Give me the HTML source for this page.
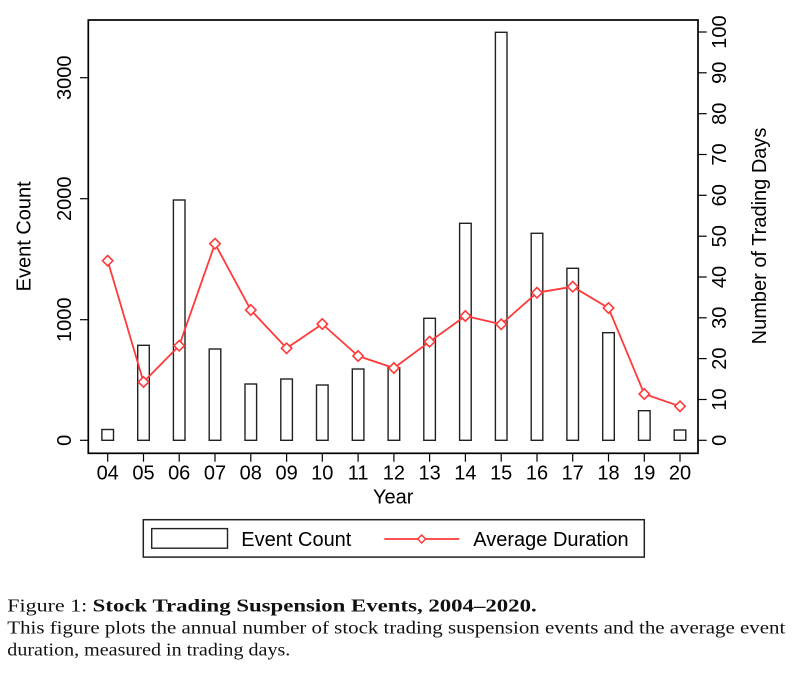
<!DOCTYPE html>
<html><head><meta charset="utf-8"><style>
html,body{margin:0;padding:0;background:#fff;}
svg{display:block;}
</style></head><body>
<svg width="792" height="673" viewBox="0 0 792 673" xmlns="http://www.w3.org/2000/svg">
<rect x="0" y="0" width="792" height="673" fill="#fff"/>
<g font-family="Liberation Sans, Arial, sans-serif" font-size="20" fill="#000">
<!-- bars -->
<g fill="#fff" stroke="#222" stroke-width="1.4">
<rect x="101.9" y="429.5" width="11.6" height="10.8"/>
<rect x="137.7" y="345.3" width="11.6" height="95"/>
<rect x="173.4" y="200" width="11.6" height="240.3"/>
<rect x="209.2" y="349" width="11.6" height="91.3"/>
<rect x="245.0" y="384" width="11.6" height="56.3"/>
<rect x="280.8" y="379" width="11.6" height="61.3"/>
<rect x="316.5" y="385" width="11.6" height="55.3"/>
<rect x="352.3" y="369" width="11.6" height="71.3"/>
<rect x="388.1" y="367.5" width="11.6" height="72.8"/>
<rect x="423.8" y="318.3" width="11.6" height="122"/>
<rect x="459.6" y="223.3" width="11.6" height="217"/>
<rect x="495.4" y="32.3" width="11.6" height="408"/>
<rect x="531.2" y="233.3" width="11.6" height="207"/>
<rect x="566.9" y="268.3" width="11.6" height="172"/>
<rect x="602.7" y="332.7" width="11.6" height="107.6"/>
<rect x="638.5" y="410.7" width="11.6" height="29.6"/>
<rect x="674.2" y="430" width="11.6" height="10.3"/>
</g>
<!-- line -->
<polyline fill="none" stroke="#ff3a3a" stroke-width="1.8" stroke-linejoin="round" points="107.7,260.7 143.5,382 179.2,345.7 215.0,243.7 250.8,310 286.6,348.3 322.3,324 358.1,356 393.9,368 429.6,341.7 465.4,316 501.2,324.3 537.0,292.7 572.7,286.7 608.5,308 644.3,394 680.0,406.3"/>
<g fill="#fff" stroke="#ff3a3a" stroke-width="1.6">
<path d="M107.7,255.5 L112.9,260.7 L107.7,265.9 L102.5,260.7 Z"/>
<path d="M143.5,376.8 L148.7,382 L143.5,387.2 L138.3,382 Z"/>
<path d="M179.2,340.5 L184.4,345.7 L179.2,350.9 L174,345.7 Z"/>
<path d="M215.0,238.5 L220.2,243.7 L215.0,248.9 L209.8,243.7 Z"/>
<path d="M250.8,304.8 L256,310 L250.8,315.2 L245.6,310 Z"/>
<path d="M286.6,343.1 L291.8,348.3 L286.6,353.5 L281.4,348.3 Z"/>
<path d="M322.3,318.8 L327.5,324 L322.3,329.2 L317.1,324 Z"/>
<path d="M358.1,350.8 L363.3,356 L358.1,361.2 L352.9,356 Z"/>
<path d="M393.9,362.8 L399.1,368 L393.9,373.2 L388.7,368 Z"/>
<path d="M429.6,336.5 L434.8,341.7 L429.6,346.9 L424.4,341.7 Z"/>
<path d="M465.4,310.8 L470.6,316 L465.4,321.2 L460.2,316 Z"/>
<path d="M501.2,319.1 L506.4,324.3 L501.2,329.5 L496,324.3 Z"/>
<path d="M537.0,287.5 L542.2,292.7 L537.0,297.9 L531.8,292.7 Z"/>
<path d="M572.7,281.5 L577.9,286.7 L572.7,291.9 L567.5,286.7 Z"/>
<path d="M608.5,302.8 L613.7,308 L608.5,313.2 L603.3,308 Z"/>
<path d="M644.3,388.8 L649.5,394 L644.3,399.2 L639.1,394 Z"/>
<path d="M680.0,401.1 L685.2,406.3 L680.0,411.5 L674.8,406.3 Z"/>
</g>
<!-- frame -->
<rect x="88.3" y="20" width="609.7" height="433.3" fill="none" stroke="#000" stroke-width="1.7"/>
<!-- left ticks -->
<g stroke="#000" stroke-width="1.2">
<line x1="80" y1="440.3" x2="88.3" y2="440.3"/>
<line x1="80" y1="319.7" x2="88.3" y2="319.7"/>
<line x1="80" y1="198.7" x2="88.3" y2="198.7"/>
<line x1="80" y1="77.7" x2="88.3" y2="77.7"/>
</g>
<text transform="translate(71,440.3) rotate(-90)" text-anchor="middle">0</text>
<text transform="translate(71,319.7) rotate(-90)" text-anchor="middle">1000</text>
<text transform="translate(71,198.7) rotate(-90)" text-anchor="middle">2000</text>
<text transform="translate(71,77.7) rotate(-90)" text-anchor="middle">3000</text>
<text transform="translate(30.5,236.3) rotate(-90)" text-anchor="middle">Event Count</text>
<!-- right ticks -->
<g stroke="#000" stroke-width="1.2">
<line x1="698" y1="440.3" x2="706.7" y2="440.3"/>
<line x1="698" y1="399.5" x2="706.7" y2="399.5"/>
<line x1="698" y1="358.6" x2="706.7" y2="358.6"/>
<line x1="698" y1="317.8" x2="706.7" y2="317.8"/>
<line x1="698" y1="277.0" x2="706.7" y2="277.0"/>
<line x1="698" y1="236.2" x2="706.7" y2="236.2"/>
<line x1="698" y1="195.3" x2="706.7" y2="195.3"/>
<line x1="698" y1="154.5" x2="706.7" y2="154.5"/>
<line x1="698" y1="113.7" x2="706.7" y2="113.7"/>
<line x1="698" y1="72.8" x2="706.7" y2="72.8"/>
<line x1="698" y1="32.0" x2="706.7" y2="32.0"/>
</g>
<text transform="translate(726,440.3) rotate(-90)" text-anchor="middle">0</text>
<text transform="translate(726,399.5) rotate(-90)" text-anchor="middle">10</text>
<text transform="translate(726,358.6) rotate(-90)" text-anchor="middle">20</text>
<text transform="translate(726,317.8) rotate(-90)" text-anchor="middle">30</text>
<text transform="translate(726,277.0) rotate(-90)" text-anchor="middle">40</text>
<text transform="translate(726,236.2) rotate(-90)" text-anchor="middle">50</text>
<text transform="translate(726,195.3) rotate(-90)" text-anchor="middle">60</text>
<text transform="translate(726,154.5) rotate(-90)" text-anchor="middle">70</text>
<text transform="translate(726,113.7) rotate(-90)" text-anchor="middle">80</text>
<text transform="translate(726,72.8) rotate(-90)" text-anchor="middle">90</text>
<text transform="translate(726,32.0) rotate(-90)" text-anchor="middle">100</text>
<text transform="translate(766,236) rotate(-90)" text-anchor="middle">Number of Trading Days</text>
<!-- bottom ticks -->
<g stroke="#000" stroke-width="1.2">
<line x1="107.7" y1="453.3" x2="107.7" y2="461.7"/>
<line x1="143.5" y1="453.3" x2="143.5" y2="461.7"/>
<line x1="179.2" y1="453.3" x2="179.2" y2="461.7"/>
<line x1="215.0" y1="453.3" x2="215.0" y2="461.7"/>
<line x1="250.8" y1="453.3" x2="250.8" y2="461.7"/>
<line x1="286.6" y1="453.3" x2="286.6" y2="461.7"/>
<line x1="322.3" y1="453.3" x2="322.3" y2="461.7"/>
<line x1="358.1" y1="453.3" x2="358.1" y2="461.7"/>
<line x1="393.9" y1="453.3" x2="393.9" y2="461.7"/>
<line x1="429.6" y1="453.3" x2="429.6" y2="461.7"/>
<line x1="465.4" y1="453.3" x2="465.4" y2="461.7"/>
<line x1="501.2" y1="453.3" x2="501.2" y2="461.7"/>
<line x1="537.0" y1="453.3" x2="537.0" y2="461.7"/>
<line x1="572.7" y1="453.3" x2="572.7" y2="461.7"/>
<line x1="608.5" y1="453.3" x2="608.5" y2="461.7"/>
<line x1="644.3" y1="453.3" x2="644.3" y2="461.7"/>
<line x1="680.0" y1="453.3" x2="680.0" y2="461.7"/>
</g>
<g text-anchor="middle">
<text x="107.7" y="479.3">04</text>
<text x="143.5" y="479.3">05</text>
<text x="179.2" y="479.3">06</text>
<text x="215.0" y="479.3">07</text>
<text x="250.8" y="479.3">08</text>
<text x="286.6" y="479.3">09</text>
<text x="322.3" y="479.3">10</text>
<text x="358.1" y="479.3">11</text>
<text x="393.9" y="479.3">12</text>
<text x="429.6" y="479.3">13</text>
<text x="465.4" y="479.3">14</text>
<text x="501.2" y="479.3">15</text>
<text x="537.0" y="479.3">16</text>
<text x="572.7" y="479.3">17</text>
<text x="608.5" y="479.3">18</text>
<text x="644.3" y="479.3">19</text>
<text x="680.0" y="479.3">20</text>
<text x="393.2" y="503.3">Year</text>
</g>
<!-- legend -->
<rect x="143.3" y="519.7" width="501" height="37.4" fill="#fff" stroke="#222" stroke-width="1.5"/>
<rect x="151.7" y="528.6" width="75.8" height="19.6" fill="#fff" stroke="#222" stroke-width="1.4"/>
<text x="241.3" y="546">Event Count</text>
<line x1="384.3" y1="539" x2="459.3" y2="539" stroke="#ff3a3a" stroke-width="1.8"/>
<path d="M421.7,535 L425.7,539 L421.7,543 L417.7,539 Z" fill="#fff" stroke="#ff3a3a" stroke-width="1.5"/>
<text x="473.3" y="546">Average Duration</text>
</g>
<!-- caption -->
<g font-family="Liberation Serif, Times New Roman, serif" font-size="18" fill="#111">
<text x="7.3" y="611.5" textLength="80" lengthAdjust="spacingAndGlyphs">Figure 1:</text>
<text x="92.7" y="611.5" font-weight="bold" textLength="444" lengthAdjust="spacingAndGlyphs">Stock Trading Suspension Events, 2004–2020.</text>
<text x="7.3" y="633.5" textLength="778" lengthAdjust="spacingAndGlyphs">This figure plots the annual number of stock trading suspension events and the average event</text>
<text x="7.3" y="655.5" textLength="283" lengthAdjust="spacingAndGlyphs">duration, measured in trading days.</text>
</g>
</svg>
</body></html>
